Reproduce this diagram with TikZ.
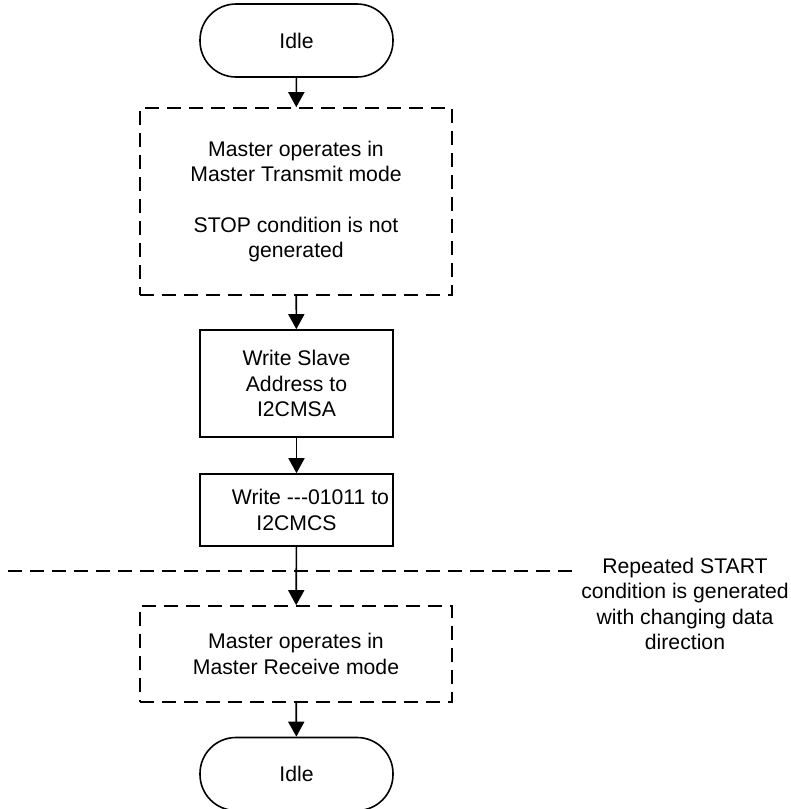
\documentclass[tikz,border=0pt]{standalone}
\usepackage{fontspec}
\setmainfont{Liberation Sans}
\usetikzlibrary{arrows.meta}
\begin{document}
\begin{tikzpicture}[x=1pt,y=-1pt,
  every node/.style={font=\fontsize{21.2}{25.3}\selectfont, align=center, inner sep=0pt},
  lw/.style={line width=1.6pt},
  dsh/.style={dash pattern=on 14pt off 8pt},
  termbox/.style={lw, draw, rounded corners=36pt, minimum width=193pt, minimum height=73pt},
  procbox/.style={lw, draw, minimum width=193pt},
  dashbox/.style={lw, draw, dsh, minimum width=312pt},
  arr/.style={lw, -{Triangle[length=15pt,width=16pt]}}
]
\useasboundingbox (0,0) rectangle (791,809);
\node[termbox] (idle1) at (296.5,40.5) {Idle};
\node[dashbox, minimum height=187pt] (tx) at (296,201.5) {Master operates in\\Master Transmit mode\\[25.3pt]STOP condition is not\\generated};
\node[procbox, minimum height=107pt] (sa) at (296.5,383.5) {Write Slave\\Address to\\I2CMSA};
\node[procbox, minimum height=72pt] (cs) at (296.5,510) {\hspace*{28pt}Write -{}-{}-01011 to\\I2CMCS};
\node[dashbox, minimum height=96pt] (rx) at (296,654) {Master operates in\\Master Receive mode};
\node[termbox] (idle2) at (296.5,774) {Idle};
\coordinate (hl) at (8,571);
\coordinate (hr) at (576,571);
\draw[lw, dsh] (hl) -- (hr);
\node (note) at (685,604) {Repeated START\\condition is generated\\with changing data\\direction};
\draw[arr] (idle1) -- (tx);
\draw[arr] (tx) -- (sa);
\draw[arr] (sa) -- (cs);
\draw[arr] (cs) -- (rx);
\draw[arr] (rx) -- (idle2);
\end{tikzpicture}
\end{document}
